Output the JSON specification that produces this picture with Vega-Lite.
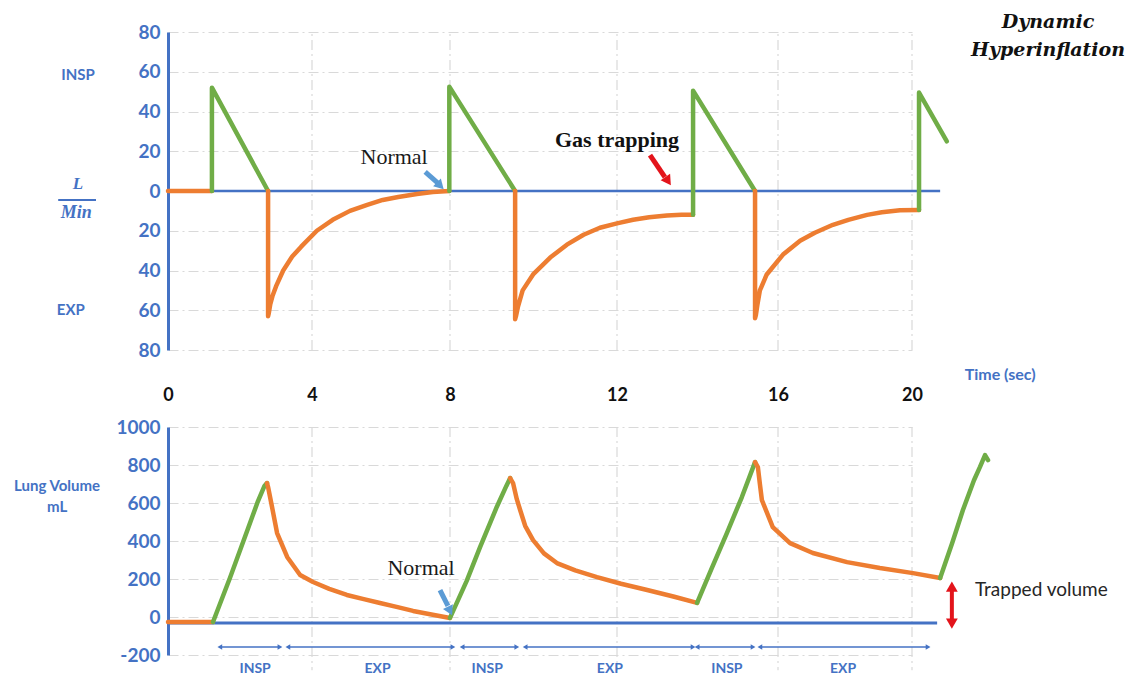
{
  "$schema": "https://vega.github.io/schema/vega-lite/v6.json",
  "width": 777,
  "height": 640,
  "autosize": {"type": "none"},
  "padding": {"left": 168, "top": 30, "right": 189, "bottom": 10},
  "background": "white",
  "config": {"view": {"stroke": null}, "font": "Lato"},
  "datasets": {
    "flow": [
      {"s": "o1", "p": "EXP", "t": 0, "v": 0}, {"s": "o1", "p": "EXP", "t": 1.22, "v": 0},
      {"s": "g1", "p": "INSP", "t": 1.22, "v": 0}, {"s": "g1", "p": "INSP", "t": 1.22, "v": 52}, {"s": "g1", "p": "INSP", "t": 2.78, "v": 0},
      {"s": "o2", "p": "EXP", "t": 2.78, "v": 0}, {"s": "o2", "p": "EXP", "t": 2.78, "v": -63}, {"s": "o2", "p": "EXP", "t": 2.8, "v": -61.5},
      {"s": "o2", "p": "EXP", "t": 2.84, "v": -57}, {"s": "o2", "p": "EXP", "t": 2.9, "v": -53}, {"s": "o2", "p": "EXP", "t": 3.0, "v": -48}, {"s": "o2", "p": "EXP", "t": 3.2, "v": -40},
      {"s": "o2", "p": "EXP", "t": 3.45, "v": -33}, {"s": "o2", "p": "EXP", "t": 3.7, "v": -28}, {"s": "o2", "p": "EXP", "t": 4.14, "v": -20},
      {"s": "o2", "p": "EXP", "t": 4.6, "v": -14.5}, {"s": "o2", "p": "EXP", "t": 5.1, "v": -10}, {"s": "o2", "p": "EXP", "t": 5.6, "v": -7},
      {"s": "o2", "p": "EXP", "t": 6.05, "v": -4.5}, {"s": "o2", "p": "EXP", "t": 6.5, "v": -3}, {"s": "o2", "p": "EXP", "t": 7.04, "v": -1.5},
      {"s": "o2", "p": "EXP", "t": 7.5, "v": -0.5}, {"s": "o2", "p": "EXP", "t": 7.98, "v": 0},
      {"s": "g2", "p": "INSP", "t": 7.98, "v": 0}, {"s": "g2", "p": "INSP", "t": 7.98, "v": 52.5}, {"s": "g2", "p": "INSP", "t": 9.56, "v": 0},
      {"s": "o3", "p": "EXP", "t": 9.56, "v": 0}, {"s": "o3", "p": "EXP", "t": 9.56, "v": -64.5}, {"s": "o3", "p": "EXP", "t": 9.58, "v": -63},
      {"s": "o3", "p": "EXP", "t": 9.63, "v": -58}, {"s": "o3", "p": "EXP", "t": 9.74, "v": -50}, {"s": "o3", "p": "EXP", "t": 9.99, "v": -42}, {"s": "o3", "p": "EXP", "t": 10.4, "v": -33.5},
      {"s": "o3", "p": "EXP", "t": 10.8, "v": -27}, {"s": "o3", "p": "EXP", "t": 11.2, "v": -22}, {"s": "o3", "p": "EXP", "t": 11.59, "v": -18.5},
      {"s": "o3", "p": "EXP", "t": 12.0, "v": -16.3}, {"s": "o3", "p": "EXP", "t": 12.4, "v": -14.5}, {"s": "o3", "p": "EXP", "t": 12.8, "v": -13.2},
      {"s": "o3", "p": "EXP", "t": 13.24, "v": -12.3}, {"s": "o3", "p": "EXP", "t": 13.6, "v": -12}, {"s": "o3", "p": "EXP", "t": 13.89, "v": -12},
      {"s": "g3", "p": "INSP", "t": 13.89, "v": -12}, {"s": "g3", "p": "INSP", "t": 13.89, "v": 50.5}, {"s": "g3", "p": "INSP", "t": 15.43, "v": 0},
      {"s": "o4", "p": "EXP", "t": 15.43, "v": 0}, {"s": "o4", "p": "EXP", "t": 15.43, "v": -64}, {"s": "o4", "p": "EXP", "t": 15.45, "v": -62.5},
      {"s": "o4", "p": "EXP", "t": 15.49, "v": -57}, {"s": "o4", "p": "EXP", "t": 15.55, "v": -50}, {"s": "o4", "p": "EXP", "t": 15.72, "v": -42}, {"s": "o4", "p": "EXP", "t": 16.15, "v": -32},
      {"s": "o4", "p": "EXP", "t": 16.66, "v": -25}, {"s": "o4", "p": "EXP", "t": 17.1, "v": -21}, {"s": "o4", "p": "EXP", "t": 17.64, "v": -17},
      {"s": "o4", "p": "EXP", "t": 18.1, "v": -14.5}, {"s": "o4", "p": "EXP", "t": 18.66, "v": -12}, {"s": "o4", "p": "EXP", "t": 19.1, "v": -10.7},
      {"s": "o4", "p": "EXP", "t": 19.64, "v": -9.7}, {"s": "o4", "p": "EXP", "t": 20.21, "v": -9.5},
      {"s": "g4", "p": "INSP", "t": 20.21, "v": -9.5}, {"s": "g4", "p": "INSP", "t": 20.21, "v": 49.5}, {"s": "g4", "p": "INSP", "t": 21.04, "v": 25}
    ],
    "vol": [
      {"s": "o1", "p": "EXP", "t": 0, "v": -26}, {"s": "o1", "p": "EXP", "t": 1.25, "v": -26},
      {"s": "g1", "p": "INSP", "t": 1.25, "v": -26}, {"s": "g1", "p": "INSP", "t": 1.72, "v": 205}, {"s": "g1", "p": "INSP", "t": 2.22, "v": 465},
      {"s": "g1", "p": "INSP", "t": 2.5, "v": 610}, {"s": "g1", "p": "INSP", "t": 2.68, "v": 690}, {"s": "g1", "p": "INSP", "t": 2.75, "v": 705},
      {"s": "o2", "p": "EXP", "t": 2.75, "v": 705}, {"s": "o2", "p": "EXP", "t": 2.78, "v": 684}, {"s": "o2", "p": "EXP", "t": 2.89, "v": 579},
      {"s": "o2", "p": "EXP", "t": 3.03, "v": 442}, {"s": "o2", "p": "EXP", "t": 3.31, "v": 316}, {"s": "o2", "p": "EXP", "t": 3.67, "v": 221},
      {"s": "o2", "p": "EXP", "t": 4.03, "v": 184}, {"s": "o2", "p": "EXP", "t": 4.5, "v": 148}, {"s": "o2", "p": "EXP", "t": 5.01, "v": 116},
      {"s": "o2", "p": "EXP", "t": 5.5, "v": 94}, {"s": "o2", "p": "EXP", "t": 5.97, "v": 74}, {"s": "o2", "p": "EXP", "t": 6.45, "v": 53},
      {"s": "o2", "p": "EXP", "t": 6.93, "v": 32}, {"s": "o2", "p": "EXP", "t": 7.5, "v": 12}, {"s": "o2", "p": "EXP", "t": 8.0, "v": -5},
      {"s": "g2", "p": "INSP", "t": 8.0, "v": -5}, {"s": "g2", "p": "INSP", "t": 8.4, "v": 190}, {"s": "g2", "p": "INSP", "t": 8.72, "v": 368},
      {"s": "g2", "p": "INSP", "t": 9.12, "v": 579}, {"s": "g2", "p": "INSP", "t": 9.35, "v": 690}, {"s": "g2", "p": "INSP", "t": 9.44, "v": 731},
      {"s": "o3", "p": "EXP", "t": 9.44, "v": 731}, {"s": "o3", "p": "EXP", "t": 9.51, "v": 705}, {"s": "o3", "p": "EXP", "t": 9.6, "v": 620},
      {"s": "o3", "p": "EXP", "t": 9.68, "v": 563}, {"s": "o3", "p": "EXP", "t": 9.8, "v": 480}, {"s": "o3", "p": "EXP", "t": 9.99, "v": 405},
      {"s": "o3", "p": "EXP", "t": 10.25, "v": 335}, {"s": "o3", "p": "EXP", "t": 10.56, "v": 284}, {"s": "o3", "p": "EXP", "t": 11.0, "v": 245},
      {"s": "o3", "p": "EXP", "t": 11.52, "v": 210}, {"s": "o3", "p": "EXP", "t": 12.1, "v": 175}, {"s": "o3", "p": "EXP", "t": 12.75, "v": 142},
      {"s": "o3", "p": "EXP", "t": 13.4, "v": 108}, {"s": "o3", "p": "EXP", "t": 13.99, "v": 74},
      {"s": "g3", "p": "INSP", "t": 13.99, "v": 74}, {"s": "g3", "p": "INSP", "t": 14.35, "v": 255}, {"s": "g3", "p": "INSP", "t": 14.73, "v": 442},
      {"s": "g3", "p": "INSP", "t": 15.1, "v": 630}, {"s": "g3", "p": "INSP", "t": 15.43, "v": 815},
      {"s": "o4", "p": "EXP", "t": 15.43, "v": 815}, {"s": "o4", "p": "EXP", "t": 15.5, "v": 789}, {"s": "o4", "p": "EXP", "t": 15.55, "v": 700},
      {"s": "o4", "p": "EXP", "t": 15.6, "v": 615}, {"s": "o4", "p": "EXP", "t": 15.87, "v": 473}, {"s": "o4", "p": "EXP", "t": 16.36, "v": 389},
      {"s": "o4", "p": "EXP", "t": 17.04, "v": 337}, {"s": "o4", "p": "EXP", "t": 18.06, "v": 289}, {"s": "o4", "p": "EXP", "t": 19.04, "v": 258},
      {"s": "o4", "p": "EXP", "t": 20.03, "v": 231}, {"s": "o4", "p": "EXP", "t": 20.84, "v": 205},
      {"s": "g4", "p": "INSP", "t": 20.84, "v": 205}, {"s": "g4", "p": "INSP", "t": 21.2, "v": 390}, {"s": "g4", "p": "INSP", "t": 21.52, "v": 563},
      {"s": "g4", "p": "INSP", "t": 21.85, "v": 720}, {"s": "g4", "p": "INSP", "t": 22.03, "v": 790}, {"s": "g4", "p": "INSP", "t": 22.18, "v": 852},
      {"s": "g4", "p": "INSP", "t": 22.27, "v": 826}
    ],
    "gridx": [{"t": 4}, {"t": 8}, {"t": 12}, {"t": 16}, {"t": 20}],
    "phases": [
      {"p": "INSP", "a": 1.44, "b": 3.11, "m": 2.42},
      {"p": "EXP", "a": 3.33, "b": 8.07, "m": 5.9},
      {"p": "INSP", "a": 8.29, "b": 9.6, "m": 8.89},
      {"p": "EXP", "a": 9.8, "b": 13.89, "m": 11.83},
      {"p": "INSP", "a": 13.99, "b": 15.38, "m": 14.73},
      {"p": "EXP", "a": 15.55, "b": 20.48, "m": 17.94}
    ]
  },
  "resolve": {"scale": {"y": "independent"}, "axis": {"y": "independent"}},
  "layer": [
    {
      "layer": [
        {
          "data": {"name": "gridx"},
          "mark": {"type": "rule", "color": "#D9D9D9", "strokeWidth": 1.2, "strokeDash": [10, 4, 2, 4]},
          "encoding": {
            "x": {"field": "t", "type": "quantitative"},
            "y": {"datum": -80, "type": "quantitative"},
            "y2": {"datum": 80}
          }
        },
        {
          "data": {"values": [{}]},
          "mark": {"type": "rule", "color": "#4472C4", "strokeWidth": 2.5},
          "encoding": {
            "x": {"datum": 0, "type": "quantitative"},
            "x2": {"datum": 20.84},
            "y": {"datum": 0, "type": "quantitative"}
          }
        },
        {
          "data": {"name": "flow"},
          "mark": {"type": "line", "strokeWidth": 4.5, "strokeJoin": "round", "strokeCap": "round", "clip": false},
          "encoding": {
            "x": {
              "field": "t", "type": "quantitative",
              "scale": {"domain": [0, 4, 8, 12, 16, 20], "range": [0, 144, 282, 449, 610, 744], "nice": false, "zero": false},
              "axis": {"orient": "bottom", "values": [0, 4, 8, 12, 16, 20], "title": null, "domain": false, "ticks": false, "grid": false, "offset": -275, "labelPadding": 0, "labelBaseline": "middle", "labelFont": "Lato", "labelFontWeight": "bold", "labelFontSize": 18, "labelColor": "#111111", "labelFlush": false, "labelOverlap": false}
            },
            "y": {
              "field": "v", "type": "quantitative",
              "scale": {"domain": [-80, 80], "range": [320, 2], "nice": false, "zero": false},
              "axis": {"orient": "left", "values": [-80, -60, -40, -20, 0, 20, 40, 60, 80], "labelExpr": "'' + abs(datum.value)", "title": null, "domain": true, "domainColor": "#4472C4", "domainWidth": 3, "ticks": false, "labelPadding": 8, "labelFont": "Lato", "labelFontWeight": "bold", "labelFontSize": 19, "labelColor": "#4472C4", "labelOverlap": false, "grid": true, "gridColor": "#D9D9D9", "gridDash": [10, 4, 2, 4], "gridWidth": 1.2}
            },
            "color": {"field": "p", "type": "nominal", "scale": {"domain": ["INSP", "EXP"], "range": ["#70AD47", "#ED7D31"]}, "legend": null},
            "detail": {"field": "s"},
            "order": {"value": null}
          }
        },
        {
          "data": {"values": [{}]},
          "mark": {"type": "text", "text": "INSP", "font": "Lato", "fontWeight": "bold", "fontSize": 15, "color": "#4472C4"},
          "encoding": {"x": {"datum": -2.5, "type": "quantitative"}, "y": {"datum": 58.4, "type": "quantitative"}}
        },
        {
          "data": {"values": [{}]},
          "mark": {"type": "text", "text": "EXP", "font": "Lato", "fontWeight": "bold", "fontSize": 15, "color": "#4472C4"},
          "encoding": {"x": {"datum": -2.7, "type": "quantitative"}, "y": {"datum": -59.9, "type": "quantitative"}}
        },
        {
          "data": {"values": [{}]},
          "mark": {"type": "text", "text": "L", "font": "Liberation Serif", "fontWeight": "bold", "fontStyle": "italic", "fontSize": 17, "color": "#4472C4"},
          "encoding": {"x": {"datum": -2.5, "type": "quantitative"}, "y": {"datum": 3.5, "type": "quantitative"}}
        },
        {
          "data": {"values": [{}]},
          "mark": {"type": "rule", "color": "#4472C4", "strokeWidth": 2},
          "encoding": {"x": {"datum": -3.05, "type": "quantitative"}, "x2": {"datum": -2.0}, "y": {"datum": -4.5, "type": "quantitative"}}
        },
        {
          "data": {"values": [{}]},
          "mark": {"type": "text", "text": "Min", "font": "Liberation Serif", "fontWeight": "bold", "fontStyle": "italic", "fontSize": 18, "color": "#4472C4"},
          "encoding": {"x": {"datum": -2.55, "type": "quantitative"}, "y": {"datum": -11, "type": "quantitative"}}
        },
        {
          "data": {"values": [{}]},
          "mark": {"type": "text", "text": "Normal", "font": "Liberation Serif", "fontSize": 22, "color": "#1a1a1a"},
          "encoding": {"x": {"datum": 6.38, "type": "quantitative"}, "y": {"datum": 17.1, "type": "quantitative"}}
        },
        {
          "data": {"values": [{}]},
          "mark": {"type": "rule", "color": "#5B9BD5", "strokeWidth": 5},
          "encoding": {"x": {"datum": 7.28, "type": "quantitative"}, "x2": {"datum": 7.65}, "y": {"datum": 9.6, "type": "quantitative"}, "y2": {"datum": 4.0}}
        },
        {
          "data": {"values": [{}]},
          "mark": {"type": "point", "shape": "triangle-up", "filled": true, "opacity": 1, "size": 120, "angle": 135, "color": "#5B9BD5"},
          "encoding": {"x": {"datum": 7.72, "type": "quantitative"}, "y": {"datum": 2.6, "type": "quantitative"}}
        },
        {
          "data": {"values": [{}]},
          "mark": {"type": "text", "text": "Gas trapping", "font": "Liberation Serif", "fontWeight": "bold", "fontSize": 22, "color": "#111111"},
          "encoding": {"x": {"datum": 12.0, "type": "quantitative"}, "y": {"datum": 25.7, "type": "quantitative"}}
        },
        {
          "data": {"values": [{}]},
          "mark": {"type": "rule", "color": "#E3141B", "strokeWidth": 5},
          "encoding": {"x": {"datum": 12.82, "type": "quantitative"}, "x2": {"datum": 13.19}, "y": {"datum": 18.1, "type": "quantitative"}, "y2": {"datum": 7.0}}
        },
        {
          "data": {"values": [{}]},
          "mark": {"type": "point", "shape": "triangle-up", "filled": true, "opacity": 1, "size": 130, "angle": 146, "color": "#E3141B"},
          "encoding": {"x": {"datum": 13.27, "type": "quantitative"}, "y": {"datum": 5.0, "type": "quantitative"}}
        },
        {
          "data": {"values": [{}]},
          "mark": {"type": "text", "text": "Dynamic", "font": "DejaVu Serif", "fontWeight": "bold", "fontStyle": "italic", "fontSize": 19, "color": "#111111"},
          "encoding": {"x": {"datum": 24.06, "type": "quantitative"}, "y": {"datum": 85, "type": "quantitative"}}
        },
        {
          "data": {"values": [{}]},
          "mark": {"type": "text", "text": "Hyperinflation", "font": "DejaVu Serif", "fontWeight": "bold", "fontStyle": "italic", "fontSize": 19, "color": "#111111"},
          "encoding": {"x": {"datum": 24.06, "type": "quantitative"}, "y": {"datum": 70.9, "type": "quantitative"}}
        },
        {
          "data": {"values": [{}]},
          "mark": {"type": "text", "text": "Time (sec)", "font": "Lato", "fontWeight": "bold", "fontSize": 16, "color": "#4472C4"},
          "encoding": {"x": {"datum": 22.63, "type": "quantitative"}, "y": {"datum": -92.6, "type": "quantitative"}}
        }
      ]
    },
    {
      "layer": [
        {
          "data": {"name": "gridx"},
          "mark": {"type": "rule", "color": "#D9D9D9", "strokeWidth": 1.2, "strokeDash": [10, 4, 2, 4]},
          "encoding": {
            "x": {"field": "t", "type": "quantitative"},
            "y": {"datum": 1000, "type": "quantitative"},
            "y2": {"datum": -280}
          }
        },
        {
          "data": {"values": [{}]},
          "mark": {"type": "rule", "color": "#4472C4", "strokeWidth": 3},
          "encoding": {
            "x": {"datum": 0, "type": "quantitative"},
            "x2": {"datum": 20.75},
            "y": {"datum": -32, "type": "quantitative"}
          }
        },
        {
          "data": {"name": "vol"},
          "mark": {"type": "line", "strokeWidth": 4.5, "strokeJoin": "round", "strokeCap": "round", "clip": false},
          "encoding": {
            "x": {"field": "t", "type": "quantitative"},
            "y": {
              "field": "v", "type": "quantitative",
              "scale": {"domain": [-200, 1000], "range": [625, 397], "nice": false, "zero": false},
              "axis": {"orient": "left", "values": [-200, 0, 200, 400, 600, 800, 1000], "labelExpr": "'' + datum.value", "title": null, "domain": true, "domainColor": "#4472C4", "domainWidth": 3, "ticks": false, "labelPadding": 8, "labelFont": "Lato", "labelFontWeight": "bold", "labelFontSize": 19, "labelColor": "#4472C4", "labelOverlap": false, "grid": true, "gridColor": "#D9D9D9", "gridDash": [10, 4, 2, 4], "gridWidth": 1.2}
            },
            "color": {"field": "p", "type": "nominal", "legend": null},
            "detail": {"field": "s"},
            "order": {"value": null}
          }
        },
        {
          "data": {"name": "phases"},
          "mark": {"type": "rule", "color": "#4472C4", "strokeWidth": 1.5},
          "encoding": {"x": {"field": "a", "type": "quantitative"}, "x2": {"field": "b"}, "y": {"datum": -158, "type": "quantitative"}}
        },
        {
          "data": {"name": "phases"},
          "mark": {"type": "point", "shape": "triangle-left", "filled": true, "opacity": 1, "size": 30, "color": "#4472C4"},
          "encoding": {"x": {"field": "a", "type": "quantitative"}, "y": {"datum": -158, "type": "quantitative"}}
        },
        {
          "data": {"name": "phases"},
          "mark": {"type": "point", "shape": "triangle-right", "filled": true, "opacity": 1, "size": 30, "color": "#4472C4"},
          "encoding": {"x": {"field": "b", "type": "quantitative"}, "y": {"datum": -158, "type": "quantitative"}}
        },
        {
          "data": {"name": "phases"},
          "mark": {"type": "text", "font": "Lato", "fontWeight": "bold", "fontSize": 14, "color": "#4472C4"},
          "encoding": {"x": {"field": "m", "type": "quantitative"}, "y": {"datum": -272, "type": "quantitative"}, "text": {"field": "p"}}
        },
        {
          "data": {"values": [{}]},
          "mark": {"type": "text", "text": "Lung Volume", "font": "Lato", "fontWeight": "bold", "fontSize": 15, "color": "#4472C4"},
          "encoding": {"x": {"datum": -3.08, "type": "quantitative"}, "y": {"datum": 689, "type": "quantitative"}}
        },
        {
          "data": {"values": [{}]},
          "mark": {"type": "text", "text": "mL", "font": "Lato", "fontWeight": "bold", "fontSize": 15, "color": "#4472C4"},
          "encoding": {"x": {"datum": -3.08, "type": "quantitative"}, "y": {"datum": 579, "type": "quantitative"}}
        },
        {
          "data": {"values": [{}]},
          "mark": {"type": "text", "text": "Normal", "font": "Liberation Serif", "fontSize": 22, "color": "#1a1a1a"},
          "encoding": {"x": {"datum": 7.16, "type": "quantitative"}, "y": {"datum": 258, "type": "quantitative"}}
        },
        {
          "data": {"values": [{}]},
          "mark": {"type": "rule", "color": "#5B9BD5", "strokeWidth": 5},
          "encoding": {"x": {"datum": 7.71, "type": "quantitative"}, "x2": {"datum": 7.94}, "y": {"datum": 142, "type": "quantitative"}, "y2": {"datum": 58}}
        },
        {
          "data": {"values": [{}]},
          "mark": {"type": "point", "shape": "triangle-up", "filled": true, "opacity": 1, "size": 120, "angle": 154, "color": "#5B9BD5"},
          "encoding": {"x": {"datum": 8.0, "type": "quantitative"}, "y": {"datum": 32, "type": "quantitative"}}
        },
        {
          "data": {"values": [{}]},
          "mark": {"type": "rule", "color": "#E3141B", "strokeWidth": 4},
          "encoding": {"x": {"datum": 21.19, "type": "quantitative"}, "y": {"datum": 150, "type": "quantitative"}, "y2": {"datum": -25}}
        },
        {
          "data": {"values": [{}]},
          "mark": {"type": "point", "shape": "triangle-up", "filled": true, "opacity": 1, "size": 140, "color": "#E3141B"},
          "encoding": {"x": {"datum": 21.19, "type": "quantitative"}, "y": {"datum": 160, "type": "quantitative"}}
        },
        {
          "data": {"values": [{}]},
          "mark": {"type": "point", "shape": "triangle-down", "filled": true, "opacity": 1, "size": 140, "color": "#E3141B"},
          "encoding": {"x": {"datum": 21.19, "type": "quantitative"}, "y": {"datum": -35, "type": "quantitative"}}
        },
        {
          "data": {"values": [{}]},
          "mark": {"type": "text", "text": "Trapped volume", "align": "left", "font": "Lato", "fontSize": 19, "color": "#262626"},
          "encoding": {"x": {"datum": 21.88, "type": "quantitative"}, "y": {"datum": 142, "type": "quantitative"}}
        }
      ]
    }
  ]
}
